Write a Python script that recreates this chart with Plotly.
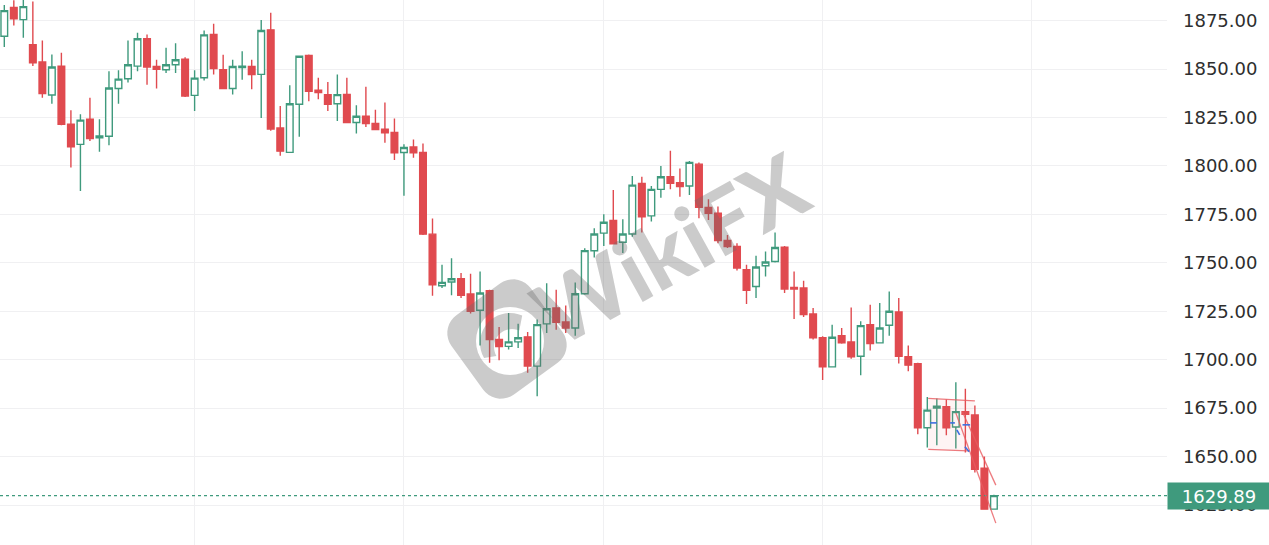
import math
import plotly.graph_objects as go

# ---------------- data ----------------
opens = [1866.9, 1881.8, 1875.5, 1862.5, 1853.6, 1836.6, 1851.5, 1821.5, 1811.1, 1824.1,
         1814.5, 1815.3, 1839.9, 1845.0, 1851.5, 1865.6, 1851.3, 1849.6, 1852.2, 1855.1,
         1836.4, 1845.5, 1867.8, 1849.6, 1839.9, 1850.8, 1851.3, 1847.2, 1870.2, 1819.6,
         1807.0, 1831.8, 1857.0, 1839.0, 1836.8, 1832.1, 1836.9, 1822.4, 1825.6, 1821.9,
         1819.0, 1817.2, 1806.9, 1809.8, 1806.9, 1764.8, 1738.2, 1740.1, 1741.8, 1733.9,
         1725.5, 1735.6, 1710.4, 1706.9, 1709.2, 1711.8, 1696.7, 1718.5, 1726.7, 1719.5,
         1716.4, 1734.0, 1756.2, 1765.3, 1771.8, 1760.6, 1764.9, 1791.0, 1774.2, 1787.9,
         1794.4, 1791.3, 1789.6, 1800.9, 1778.6, 1775.6, 1761.5, 1758.4, 1746.4, 1737.8,
         1748.5, 1750.7, 1758.1, 1737.3, 1737.0, 1723.6, 1711.3, 1696.3, 1712.4, 1709.2,
         1701.8, 1718.1, 1708.7, 1717.8, 1724.6, 1701.5, 1697.9, 1664.9, 1675.0, 1675.8,
         1665.3, 1673.2, 1671.5, 1644.0, 1622.9]
highs = [1883.0, 1885.5, 1886.0, 1884.8, 1864.7, 1857.5, 1858.4, 1828.7, 1826.6, 1835.2,
         1824.1, 1848.8, 1849.3, 1864.7, 1868.7, 1867.8, 1854.8, 1861.0, 1863.3, 1856.1,
         1849.3, 1869.9, 1873.3, 1857.4, 1854.8, 1859.1, 1854.8, 1875.3, 1879.0, 1830.9,
         1841.6, 1857.0, 1857.5, 1845.5, 1843.3, 1847.2, 1845.5, 1831.3, 1840.8, 1829.0,
         1832.7, 1824.4, 1811.2, 1813.6, 1811.6, 1772.8, 1749.0, 1752.4, 1744.7, 1744.3,
         1745.5, 1736.1, 1716.9, 1724.1, 1718.5, 1714.3, 1720.7, 1739.5, 1736.1, 1728.0,
         1739.9, 1757.5, 1767.8, 1775.0, 1787.6, 1772.5, 1794.8, 1794.4, 1789.6, 1799.9,
         1807.8, 1798.7, 1802.5, 1801.8, 1782.8, 1779.0, 1764.4, 1760.1, 1749.0, 1753.6,
         1755.8, 1765.6, 1758.7, 1745.5, 1740.7, 1726.7, 1712.1, 1718.1, 1716.4, 1727.0,
         1719.8, 1728.4, 1729.3, 1735.2, 1731.8, 1707.3, 1698.4, 1680.7, 1680.0, 1679.5,
         1688.4, 1685.0, 1676.4, 1650.0, 1630.3]
lows = [1861.3, 1872.4, 1866.1, 1851.5, 1835.2, 1832.1, 1821.0, 1799.2, 1787.0, 1812.9,
        1807.3, 1810.7, 1832.1, 1843.0, 1848.9, 1841.9, 1839.9, 1847.9, 1847.9, 1835.5,
        1828.3, 1844.1, 1847.2, 1839.5, 1836.8, 1844.5, 1839.5, 1824.7, 1818.1, 1805.2,
        1806.8, 1815.0, 1833.3, 1834.4, 1828.3, 1823.2, 1822.0, 1816.7, 1820.1, 1818.5,
        1811.9, 1803.0, 1784.6, 1804.2, 1764.3, 1733.0, 1737.0, 1733.2, 1731.8, 1723.8,
        1707.3, 1698.4, 1699.7, 1705.3, 1706.1, 1693.3, 1681.2, 1713.8, 1715.5, 1713.8,
        1712.4, 1733.5, 1752.7, 1758.7, 1759.5, 1755.0, 1763.5, 1765.6, 1771.3, 1783.6,
        1787.9, 1784.1, 1785.0, 1773.0, 1772.1, 1760.1, 1757.6, 1746.0, 1728.7, 1731.8,
        1743.0, 1750.2, 1734.4, 1721.0, 1722.0, 1710.4, 1689.5, 1696.0, 1708.3, 1700.5,
        1692.0, 1704.7, 1708.5, 1712.4, 1698.0, 1694.1, 1661.5, 1654.7, 1655.9, 1661.0,
        1654.2, 1652.1, 1641.8, 1622.6, 1622.6]
closes = [1880.1, 1875.9, 1882.2, 1853.2, 1837.3, 1851.0, 1821.5, 1809.8, 1823.6, 1814.1,
          1815.5, 1840.2, 1844.8, 1852.2, 1865.6, 1851.0, 1849.8, 1852.2, 1854.8, 1836.1,
          1845.3, 1867.6, 1850.2, 1839.9, 1851.3, 1851.5, 1847.1, 1869.9, 1819.0, 1807.6,
          1832.1, 1856.6, 1838.5, 1837.8, 1831.8, 1836.8, 1822.4, 1825.6, 1821.9, 1818.8,
          1817.1, 1806.7, 1809.5, 1806.7, 1764.8, 1738.7, 1739.9, 1741.8, 1733.2, 1725.0,
          1734.4, 1710.4, 1706.8, 1709.2, 1711.3, 1696.7, 1718.1, 1726.3, 1719.3, 1716.4,
          1734.0, 1756.3, 1764.9, 1770.9, 1759.8, 1764.9, 1790.1, 1773.8, 1787.9, 1794.4,
          1791.0, 1789.3, 1801.8, 1778.6, 1775.6, 1761.5, 1758.4, 1747.3, 1735.8, 1747.8,
          1750.4, 1757.9, 1736.5, 1736.5, 1723.3, 1711.3, 1696.3, 1711.6, 1708.7, 1701.5,
          1717.6, 1708.3, 1716.4, 1725.0, 1701.8, 1697.2, 1664.9, 1674.0, 1676.0, 1664.9,
          1673.2, 1671.8, 1643.5, 1622.9, 1629.89]
bar_index = list(range(len(opens)))
month_breaks = [20, 42, 63, 86, 108]
y_ticks = [1625, 1650, 1675, 1700, 1725, 1750, 1775, 1800, 1825, 1850, 1875]
y_tick_labels = [f"{v:.2f}" for v in y_ticks]
last_price = closes[-1]

# drawing (flag pattern) in (bar index, price)
flag_top = [(97.1, 1680.1), (102.0, 1678.8)]
flag_bottom = [(97.1, 1653.7), (101.3, 1653.0)]
channel_upper = [(100.7, 1673.0), (104.2, 1635.3)]
channel_lower = [(100.0, 1672.5), (104.2, 1615.7)]
blue_marks = [[(97.3, 1667.4), (98.0, 1667.4)],
              [(99.4, 1667.4), (99.9, 1667.4)],
              [(100.1, 1663.8), (100.4, 1661.2)],
              [(100.95, 1655.1), (101.4, 1652.5)],
              [(100.7, 1666.4), (101.5, 1666.4)]]

RED = "#e04a4f"
GREEN = "#3f9a7d"
GRID = "#f0f0f2"

W, H = 1269, 545
PLOT_W = 1167

fig = go.Figure(go.Candlestick(
    x=bar_index, open=opens, high=highs, low=lows, close=closes,
    increasing=dict(line=dict(color=GREEN, width=1.4), fillcolor="#ffffff"),
    decreasing=dict(line=dict(color=RED, width=1.4), fillcolor=RED),
    whiskerwidth=0, hoverinfo="skip", showlegend=False))

shapes = []
# last price dotted line
shapes.append(dict(type="line", xref="paper", x0=0, x1=1, yref="y", y0=last_price, y1=last_price,
                   line=dict(color=GREEN, width=1.2, dash="dot"), layer="above"))

# flag pattern drawing
PINK = "rgba(232,90,95,0.8)"
(ax0, ay0), (ax1, ay1) = flag_top
(bx0, by0), (bx1, by1) = flag_bottom
shapes.append(dict(type="path", xref="x", yref="y",
                   path=f"M{ax0},{ay0} L{ax1},{ay1} L{bx1},{by1} L{bx0},{by0} Z",
                   fillcolor="rgba(240,110,110,0.08)", line=dict(width=0), layer="above"))
for seg in (flag_top, flag_bottom, channel_upper, channel_lower):
    (x0, y0), (x1, y1) = seg
    shapes.append(dict(type="line", xref="x", yref="y", x0=x0, y0=y0, x1=x1, y1=y1,
                       line=dict(color=PINK, width=1.3), layer="above"))
for seg in blue_marks:
    (x0, y0), (x1, y1) = seg
    shapes.append(dict(type="line", xref="x", yref="y", x0=x0, y0=y0, x1=x1, y1=y1,
                       line=dict(color="#3d6fe0", width=1.6, dash="dash"), layer="above"))

# watermark logo (rotated rounded square with round hole)
def to_paper(px, py):
    return px / PLOT_W, 1 - py / H

cx, cy, side, rad, ang = 507, 339, 98, 22, math.radians(-36)
pts = []
half = side / 2 - rad
for (qx, qy, a0) in [(half, half, 0), (-half, half, 90), (-half, -half, 180), (half, -half, 270)]:
    for k in range(0, 10):
        a = math.radians(a0 + k * 10)
        pts.append((qx + rad * math.cos(a), qy + rad * math.sin(a)))
path = ""
for i, (x, y) in enumerate(pts):
    rx = cx + x * math.cos(ang) - y * math.sin(ang)
    ry = cy + x * math.sin(ang) + y * math.cos(ang)
    X, Y = to_paper(rx, ry)
    path += ("M" if i == 0 else "L") + f"{X:.5f},{Y:.5f} "
path += "Z "
hcx, hcy, hr = 510, 341, 34
for k in range(0, 37):
    a = math.radians(k * 10)
    X, Y = to_paper(hcx + hr * math.cos(a), hcy + hr * math.sin(a))
    path += ("M" if k == 0 else "L") + f"{X:.5f},{Y:.5f} "
path += "Z"
WM = "rgba(105,105,105,0.35)"
shapes.append(dict(type="path", xref="paper", yref="paper", path=path, fillcolor=WM,
                   fillrule="evenodd", line=dict(width=0), layer="above"))
# inner swirl hint
sw = ""
for k in range(0, 19):
    a = math.radians(150 + k * 8)
    X, Y = to_paper(hcx + 2 + 18 * math.cos(a), hcy + 6 + 18 * math.sin(a))
    sw += ("M" if k == 0 else "L") + f"{X:.5f},{Y:.5f} "
for k in range(18, -1, -1):
    a = math.radians(150 + k * 8)
    X, Y = to_paper(hcx + 30 * math.cos(a), hcy + 2 + 30 * math.sin(a))
    sw += f"L{X:.5f},{Y:.5f} "
sw += "Z"
shapes.append(dict(type="path", xref="paper", yref="paper", path=sw, fillcolor=WM,
                   line=dict(width=0), layer="above"))

annotations = [
    dict(xref="paper", yref="paper", x=670 / PLOT_W, y=1 - 248 / H, text="WikiFX",
         showarrow=False, textangle=-29,
         font=dict(family="Lato", size=88, color=WM, weight=900)),
    dict(xref="paper", x=1, xanchor="left", yref="y", y=last_price, yanchor="middle",
         text=f"{last_price:.2f}", showarrow=False, bgcolor=GREEN, width=98, height=22,
         borderpad=2, align="center", font=dict(family="DejaVu Sans", size=18, color="#ffffff")),
]

fig.update_layout(
    width=W, height=H, margin=dict(l=0, r=W - PLOT_W, t=0, b=0),
    paper_bgcolor="#ffffff", plot_bgcolor="#ffffff",
    shapes=shapes, annotations=annotations, showlegend=False,
    boxgap=0.15, boxgroupgap=0.18,
    xaxis=dict(range=[-0.452, 122.19], tickvals=month_breaks, showticklabels=False,
               showgrid=True, gridcolor=GRID, gridwidth=1, zeroline=False, showline=False,
               ticks="", rangeslider=dict(visible=False), fixedrange=True),
    yaxis=dict(side="right", range=[1604.4, 1885.6], tickvals=y_ticks, ticktext=y_tick_labels,
               showgrid=True, gridcolor=GRID, gridwidth=1, zeroline=False, showline=False,
               ticks="", ticklabelstandoff=15,
               tickfont=dict(family="DejaVu Sans", size=18, color="#2e2e2e"), fixedrange=True),
)

fig.write_html("out.html", config={"displayModeBar": False},
               post_script="document.body.style.margin='0px';document.body.style.overflow='hidden';")
